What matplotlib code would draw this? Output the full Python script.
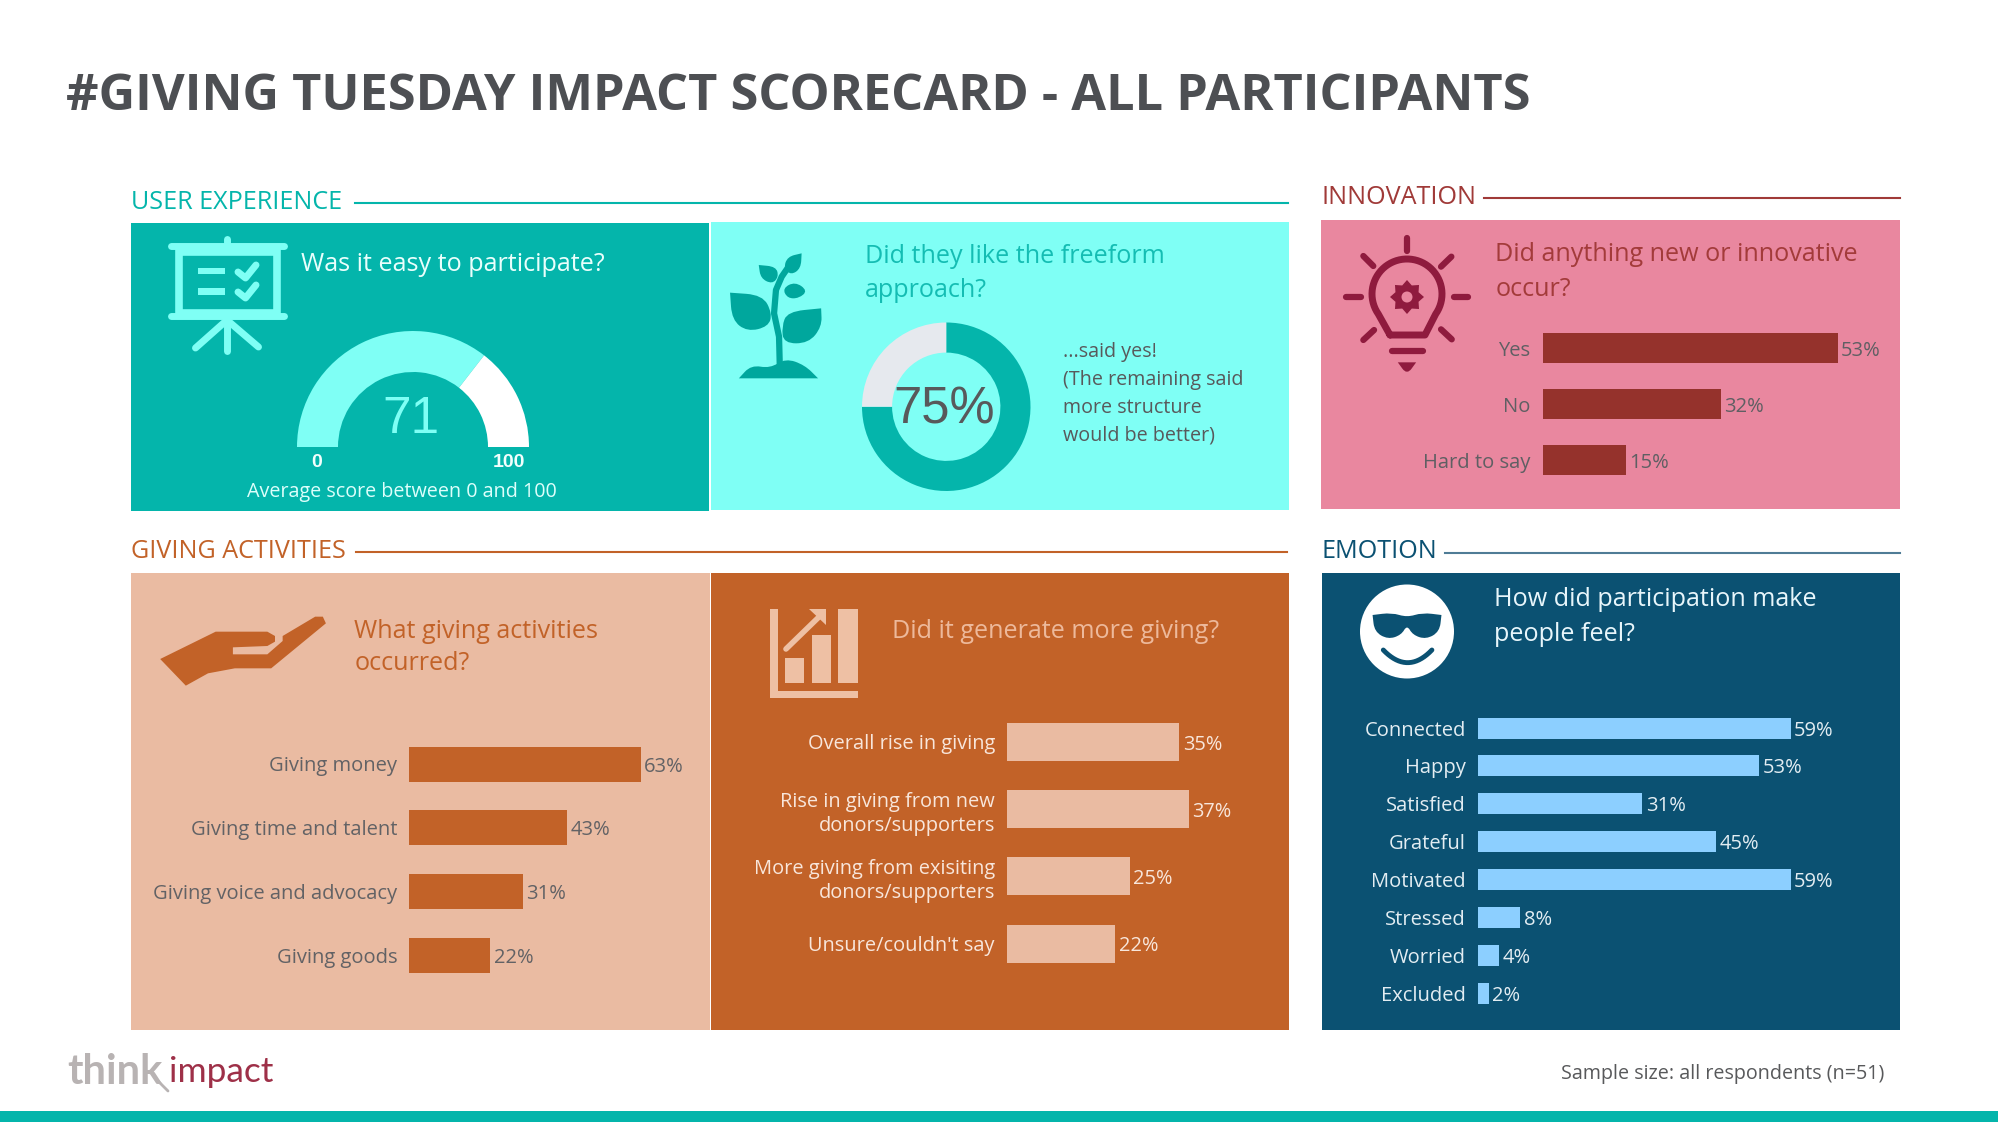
import numpy as np
import matplotlib
matplotlib.use("Agg")
import matplotlib.pyplot as plt
from matplotlib.patches import Rectangle, Circle, PathPatch, Polygon
from matplotlib.path import Path

plt.rcParams['font.family'] = ['Open Sans', 'DejaVu Sans']

# data
score_value = 71
freeform_yes = 75
innovation_labels = ['Yes', 'No', 'Hard to say']
innovation_values = [53, 32, 15]
activity_labels = ['Giving money', 'Giving time and talent', 'Giving voice and advocacy', 'Giving goods']
activity_values = [63, 43, 31, 22]
generate_labels = ['Overall rise in giving', 'Rise in giving from new\ndonors/supporters',
                   'More giving from exisiting\ndonors/supporters', "Unsure/couldn't say"]
generate_values = [35, 37, 25, 22]
emotion_labels = ['Connected', 'Happy', 'Satisfied', 'Grateful', 'Motivated', 'Stressed', 'Worried', 'Excluded']
emotion_values = [59, 53, 31, 45, 59, 8, 4, 2]

TEAL = '#04B5AB'
AQUA = '#7FFFF5'
PINK = '#E9879F'
MAROON = '#95322C'
PEACH = '#EABBA2'
ORANGE = '#C26228'
NAVY = '#0B5172'
SKY = '#8CCFFF'
GREY = '#58595B'

W, H = 1999, 1122
fig = plt.figure(figsize=(W / 100, H / 100), dpi=100, facecolor='white')

bg = fig.add_axes([0, 0, 1, 1])
bg.set_xlim(0, W)
bg.set_ylim(H, 0)
bg.axis('off')


def px_axes(x0, y0, x1, y1):
    ax = fig.add_axes([x0 / W, 1 - y1 / H, (x1 - x0) / W, (y1 - y0) / H])
    ax.patch.set_alpha(0)
    return ax


def panel(x0, y0, x1, y1, color):
    bg.add_patch(Rectangle((x0, y0), x1 - x0, y1 - y0, fc=color, ec='none'))


def label(x, y, s, size, color, **kw):
    kw.setdefault('ha', 'left')
    bg.text(x, y + 2.5, s, fontsize=size, color=color, va='center', **kw)


def header(x, y, s, color, x0, x1, ly, line_color=None, size=18.1):
    label(x, y, s, size, color)
    bg.plot([x0, x1], [ly, ly], color=line_color or color, lw=1.5)


def zoomed(pts, ox, oy, sx=2.613, sy=3.0):
    pts = np.array(pts, dtype=float)
    return np.column_stack([ox + pts[:, 0] / sx, oy + pts[:, 1] / sy])


def blob(pts, color):
    # smooth closed shape, a repeated point gives a sharp corner
    n = len(pts)
    mids = [(pts[i] + pts[(i + 1) % n]) / 2 for i in range(n)]
    verts = [mids[-1]]
    codes = [Path.MOVETO]
    for i in range(n):
        verts += [pts[i], mids[i]]
        codes += [Path.CURVE3, Path.CURVE3]
    bg.add_patch(PathPatch(Path(verts, codes), fc=color, ec='none'))


def stroke(pts, color, lw):
    pts = np.array(pts)
    bg.plot(pts[:, 0], pts[:, 1], color=color, lw=lw, solid_capstyle='round', solid_joinstyle='round')


def bars(labels, values, x0, px_per, y_first, spacing, bar_h, color, text_color, size, gap=12):
    n = len(values)
    ax = px_axes(x0, y_first - spacing / 2, x0 + 80 * px_per, y_first + spacing * (n - 0.5))
    b = ax.barh(range(n), values, height=bar_h / spacing, color=color)
    ax.set_xlim(0, 80)
    ax.set_ylim(n - 0.5, -0.5)
    ax.set_xticks([])
    ax.set_yticks(range(n))
    ax.set_yticklabels(labels, fontsize=size, color=text_color, linespacing=1.3)
    for t in ax.get_yticklabels():
        t.set_multialignment('right')
    ax.tick_params(axis='y', length=0, pad=gap * 0.72)
    for s in ax.spines.values():
        s.set_visible(False)
    for t in ax.bar_label(b, fmt='%d%%', padding=2.5, fontsize=size, color=text_color):
        t.set_va('center_baseline')


# title and footer
label(66, 94, '#GIVING TUESDAY IMPACT SCORECARD - ALL PARTICIPANTS', 36.4, '#4D4F53', fontweight='bold')
bg.add_patch(Rectangle((0, 1111), W, 11, fc=TEAL, ec='none'))
label(1884, 1071, 'Sample size: all respondents (n=51)', 14.2, GREY, ha='right')
label(67, 1069, 'think', 30, '#B8B3B3', fontweight='bold', family='Lato')
label(169.5, 1069, 'impact', 25.5, '#9E3048', family='Lato')
stroke([(157, 1080), (168, 1091)], '#B8B3B3', 2)

# panels
panel(131.5, 223, 709, 510.5, TEAL)
panel(711, 222, 1289, 510, AQUA)
panel(1321, 220, 1900, 509, PINK)
panel(131.5, 572.5, 710, 1030, PEACH)
panel(711.5, 572.5, 1289, 1030, ORANGE)
panel(1322, 572.5, 1900, 1030, NAVY)

header(131, 199.5, 'USER EXPERIENCE', TEAL, 355, 1288, 203)
header(1322, 194.5, 'INNOVATION', '#A03A38', 1484, 1900, 198)
header(131, 548.5, 'GIVING ACTIVITIES', ORANGE, 356, 1287, 552)
header(1322, 548.5, 'EMOTION', NAVY, 1445, 1900, 553, '#4F7C96')

# was it easy - gauge
label(301, 262, 'Was it easy to participate?', 18.1, '#E9FFFC')
gauge = px_axes(297, 331, 529, 563)
gauge.pie([score_value, 100 - score_value, 100], colors=[AQUA, 'white', 'none'], radius=1, startangle=180,
          counterclock=False, wedgeprops={'width': 41 / 116})
gauge.set_xlim(-1, 1)
gauge.set_ylim(-1, 1)
label(411, 416.5, str(score_value), 37, AQUA, ha='center', family='Liberation Sans')
label(316.5, 459.5, '0', 14, '#F2FFFD', ha='center', family='Liberation Sans', fontweight='bold')
label(509, 459.5, '100', 14, '#F2FFFD', ha='center', family='Liberation Sans', fontweight='bold')
label(401.5, 489.5, 'Average score between 0 and 100', 14.2, '#DDFFFB', ha='center')

# presentation board icon
bg.add_patch(Rectangle((179, 252), 98, 61, fc='none', ec=AQUA, lw=5.5))
stroke([(171, 246), (284, 246)], AQUA, 5)
stroke([(227, 239), (227, 246)], AQUA, 5)
stroke([(171, 316), (284, 316)], AQUA, 5)
stroke([(227, 320), (227, 351)], AQUA, 5)
stroke([(227, 320), (195.5, 348)], AQUA, 5)
stroke([(227, 320), (258.5, 347)], AQUA, 5)
bg.add_patch(Rectangle((198.5, 268), 27, 6, fc=AQUA, ec='none'))
bg.add_patch(Rectangle((198.5, 288), 27, 6.5, fc=AQUA, ec='none'))
stroke([(238, 272), (245.5, 278), (256, 265)], AQUA, 5)
stroke([(238, 292), (245.5, 298), (256, 285)], AQUA, 5)

# freeform - donut
label(865, 253.5, 'Did they like the freeform', 18.1, '#14BDB3')
label(865, 288, 'approach?', 18.1, '#14BDB3')
donut = px_axes(862, 322.5, 1030.5, 491)
donut.pie([freeform_yes, 100 - freeform_yes], colors=[TEAL, '#E6E9EE'], radius=1, startangle=90,
          counterclock=False, wedgeprops={'width': 30 / 84})
donut.set_xlim(-1, 1)
donut.set_ylim(-1, 1)
label(944.5, 407, '%d%%' % freeform_yes, 36.5, GREY, ha='center', family='Liberation Sans')
for yy, s in zip([349, 377, 405, 433], ['...said yes!', '(The remaining said', 'more structure', 'would be better)']):
    label(1063, yy, s, 14.2, GREY)

# plant icon
PLANT = '#00A79D'
for leaf in [[(55, 338), (55, 338), (140, 345), (165, 400), (155, 440), (100, 455), (60, 420)],
             [(293, 385), (293, 385), (205, 395), (190, 440), (195, 490), (260, 490), (295, 440)],
             [(130, 255), (130, 255), (175, 260), (182, 290), (165, 312), (135, 295)],
             [(242, 220), (242, 220), (205, 230), (195, 265), (215, 285), (240, 265)],
             [(258, 332), (225, 305), (192, 325), (205, 355), (235, 355)],
             [(78, 595), (78, 595), (110, 555), (160, 565), (200, 535), (250, 555), (285, 595), (285, 595)]]:
    blob(zoomed(leaf, 709, 180), PLANT)
stroke(zoomed([(185, 560), (183, 470), (170, 400), (175, 330), (190, 290), (205, 265)], 709, 180), PLANT, 4.5)

# innovation
label(1495.5, 252, 'Did anything new or innovative', 18.1, '#A33B3A')
label(1495.5, 286.5, 'occur?', 18.1, '#A33B3A')
bars(innovation_labels, innovation_values, 1542.5, 5.57, 348.3, 56, 30, MAROON, '#5F5F63', 14.5)

# bulb icon
BULB = '#8F1B3E'
t = np.radians(np.linspace(-35, 215, 50))
outline = [(1390, 335)] + [(1407 + 35 * np.cos(a), 294 - 35 * np.sin(a)) for a in t[::-1]] + [(1425, 335), (1390, 335)]
stroke(outline, BULB, 5)
teeth = np.radians(np.arange(0, 360, 22.5))
gear = [(1407 + (17 if i % 2 == 0 else 12.5) * np.cos(a), 297 + (17 if i % 2 == 0 else 12.5) * np.sin(a))
        for i, a in enumerate(teeth)]
bg.add_patch(Polygon(gear, fc=BULB, ec='none'))
bg.add_patch(Circle((1407, 297), 5.5, fc=PINK, ec='none'))
for ray in [[(257, 205), (257, 243)], [(97, 382), (135, 382)], [(380, 382), (416, 382)], [(142, 258), (168, 288)],
            [(372, 260), (345, 290)], [(142, 510), (170, 480)], [(373, 508), (345, 478)], [(218, 543), (297, 543)]]:
    stroke(zoomed(ray, 1309, 170), BULB, 4.5)
blob(zoomed([(232, 577), (232, 577), (256, 615), (280, 577), (280, 577)], 1309, 170), BULB)

# giving activities
label(354.5, 629, 'What giving activities', 18.1, ORANGE)
label(354.5, 661, 'occurred?', 18.1, ORANGE)
bars(activity_labels, activity_values, 409.3, 3.67, 764, 63.8, 35, ORANGE, '#626265', 14.5)
hand = zoomed([(105, 297), (250, 215), (385, 215), (405, 228), (405, 245), (385, 258), (295, 262), (295, 283), (385, 283),
               (425, 243), (425, 228), (510, 170), (530, 170), (538, 190), (395, 325), (300, 325), (230, 340), (172, 377)],
              120, 560)
bg.add_patch(Polygon(hand, fc=ORANGE, ec='none'))

# more giving
label(892.5, 629, 'Did it generate more giving?', 18.1, '#EDB99B')
bars(generate_labels, generate_values, 1007, 4.92, 742, 67.2, 38, PEACH, '#F8E6DB', 14.4)
ICON = '#EEC0A4'
for xa, xb, ya, yb in [(132, 153, 88, 355), (132, 362, 333, 355), (172, 223, 233, 310), (243, 293, 165, 310), (312, 362, 88, 310)]:
    c = zoomed([(xa, ya), (xb, ya), (xb, yb), (xa, yb)], 719, 580)
    bg.add_patch(Polygon(c, fc=ICON, ec='none'))
stroke(zoomed([(175, 207), (262, 110)], 719, 580), ICON, 4)
bg.add_patch(Polygon(zoomed([(235, 88), (280, 88), (280, 135)], 719, 580), fc=ICON, ec='none'))

# emotion
label(1494, 597, 'How did participation make', 18.1, '#E8F6FB')
label(1494, 632, 'people feel?', 18.1, '#E8F6FB')
bars(emotion_labels, emotion_values, 1478, 5.3, 728, 37.9, 21, SKY, '#E3EDF2', 14.5)
bg.add_patch(Circle((1407, 631.5), 47, fc='white', ec='none'))
glasses = [(140, 165), (140, 165), (190, 158), (230, 172), (270, 158), (320, 165), (320, 165), (315, 215), (280, 238), (245, 225),
           (230, 195), (215, 225), (180, 238), (145, 215)]
blob(zoomed(glasses, 1319, 560), NAVY)
xs = np.linspace(168, 295, 20)
mouth = np.column_stack([xs, 270 + 38 * (1 - ((xs - 231.5) / 63.5) ** 2)])
stroke(zoomed(mouth, 1319, 560), NAVY, 3.5)

fig.savefig('out.png', dpi=100, facecolor='white')
